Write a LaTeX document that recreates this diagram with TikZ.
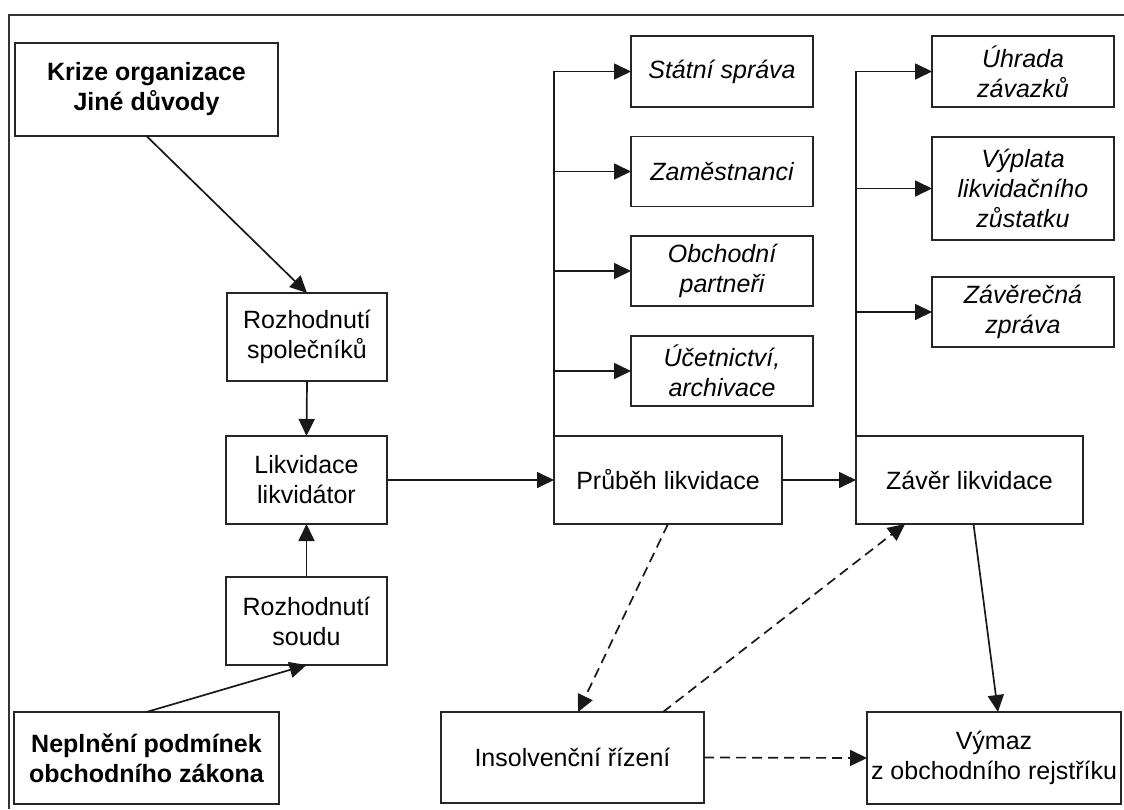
\documentclass[tikz,border=0pt]{standalone}
\usepackage{fontspec}
\setmainfont{Liberation Sans}
\usetikzlibrary{arrows.meta,calc}
\tikzset{
  box/.style={draw=black!85, line width=1.7pt, inner sep=0pt, outer sep=0pt, align=center,
    font=\fontsize{25}{30}\selectfont, text=black},
  ibox/.style={box, font=\fontsize{25}{30}\selectfont\itshape},
  bbox/.style={box, font=\fontsize{25}{30}\selectfont\bfseries},
  conn/.style={draw=black!90, line width=1.7pt, -{Triangle[length=17pt,width=16pt]}},
  dconn/.style={conn, dash pattern=on 10pt off 6pt},
  frameline/.style={draw=black!80, line width=1.9pt},
}
\begin{document}
\begin{tikzpicture}[x=1pt,y=-1pt]
\useasboundingbox (0,0) rectangle (1124,809);
% frame
\coordinate (ftr) at (1124,15);
\coordinate (ftl) at (9,15);
\coordinate (fbl) at (9,809);
\draw[frameline] (ftr) -- (ftl) -- (fbl);

% left column
\node[bbox, minimum width=263pt, minimum height=93pt] (krize) at (146.5,89.5) {Krize organizace\\Jiné důvody};
\node[box, minimum width=160pt, minimum height=88pt] (rsp) at (307,337) {Rozhodnutí\\společníků};
\node[box, minimum width=161pt, minimum height=88pt] (likv) at (306.5,480) {Likvidace\\likvidátor};
\node[box, minimum width=161pt, minimum height=88pt] (rsoud) at (306.5,621) {Rozhodnutí\\soudu};
\node[bbox, minimum width=265pt, minimum height=92pt] (nepl) at (146.5,758) {Neplnění podmínek\\obchodního zákona};

% middle
\node[box, minimum width=228pt, minimum height=88pt] (prub) at (668,480) {Průběh likvidace};
\node[box, minimum width=227pt, minimum height=88pt] (zaver) at (969.5,480) {Závěr likvidace};
\node[box, minimum width=263pt, minimum height=91pt] (ins) at (572.5,757.5) {Insolvenční řízení};
\node[box, minimum width=254pt, minimum height=92pt] (vymaz) at (994,758) {Výmaz\\z obchodního rejstříku};

% italic boxes
\node[ibox, minimum width=182pt, minimum height=71pt] (statni) at (722,71.5) {Státní správa};
\node[ibox, minimum width=182pt, minimum height=70pt] (zam) at (722,171.5) {Zaměstnanci};
\node[ibox, minimum width=182pt, minimum height=70pt] (obch) at (722,271) {Obchodní\\partneři};
\node[ibox, minimum width=182pt, minimum height=70pt] (ucet) at (722,371) {Účetnictví,\\archivace};

\node[ibox, minimum width=182pt, minimum height=71pt] (uhrada) at (1023,71.5) {Úhrada\\závazků};
\node[ibox, minimum width=182pt, minimum height=103pt] (vyplata) at (1023,188.5) {Výplata\\likvidačního\\zůstatku};
\node[ibox, minimum width=182pt, minimum height=70pt] (zaverecna) at (1023,312) {Závěrečná\\zpráva};

% connectors left
\draw[conn] (krize.south) -- (rsp.north);
\draw[conn] (rsp.south) -- (likv.north);
\draw[conn] (rsoud.north) -- (likv.south);
\draw[conn] (nepl.north) -- (rsoud.south);
\draw[conn] (likv.east) -- (prub.west);
\draw[conn] (prub.east) -- (zaver.west);

% bus from Prubeh
\draw[conn] (prub.north west) |- (statni.west);
\draw[conn] (prub.north west |- zam.west) -- (zam.west);
\draw[conn] (prub.north west |- obch.west) -- (obch.west);
\draw[conn] (prub.north west |- ucet.west) -- (ucet.west);

% bus from Zaver
\draw[conn] (zaver.north west) |- (uhrada.west);
\draw[conn] (zaver.north west |- vyplata.west) -- (vyplata.west);
\draw[conn] (zaver.north west |- zaverecna.west) -- (zaverecna.west);

% bottom connectors
\draw[dconn] (prub.south) -- ([xshift=5.5pt]ins.north);
\draw[dconn] ([xshift=90.5pt]ins.north) -- ([xshift=-64.5pt]zaver.south);
\draw[dconn] (ins.east) -- (vymaz.west);
\draw[conn] ([xshift=4pt]zaver.south) -- ([xshift=4pt]vymaz.north);
\end{tikzpicture}
\end{document}
